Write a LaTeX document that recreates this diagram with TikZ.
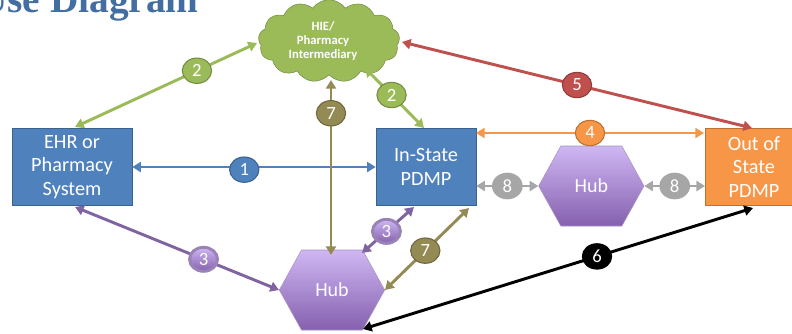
\documentclass[tikz,border=0pt]{standalone}
\usepackage{fontspec}
\setmainfont{Carlito}
\newfontfamily\titlefont{Liberation Serif}
\usepackage{xcolor}
\usetikzlibrary{positioning, arrows.meta, shapes.symbols, shapes.geometric}
\definecolor{sysblue}{HTML}{4F81BD}
\definecolor{sysorange}{HTML}{F79646}
\definecolor{sysgreen}{HTML}{9BBB59}
\definecolor{sysred}{HTML}{C0504D}
\definecolor{syspurple}{HTML}{8064A2}
\definecolor{sysolive}{HTML}{948A54}
\definecolor{sysgray}{HTML}{A6A6A6}
\definecolor{hubtop}{HTML}{CFB7F3}
\definecolor{hubbot}{HTML}{8560AE}
\tikzset{
  sysbox/.style={draw=#1!75!black, fill=#1, text=white, font=\fontsize{15.2}{17.6}\selectfont, align=center, minimum height=58pt, inner sep=0pt},
  hubhex/.style={signal, signal to=east and west, signal pointer angle=122, draw=syspurple!70, top color=hubtop, bottom color=hubbot, text=white, font=\fontsize{15}{18}\selectfont, minimum width=79pt, minimum height=60pt, inner sep=0pt},
  badge/.style={ellipse, draw=#1!75!black, fill=#1, text=white, font=\fontsize{14}{15}\selectfont, minimum width=22pt, minimum height=19pt, inner sep=0pt, thick},
  hubbadge/.style={ellipse, draw=syspurple!80, top color=hubtop, bottom color=hubbot, text=white, font=\fontsize{14}{15}\selectfont, minimum width=21pt, minimum height=18pt, inner sep=0pt},
  greybadge/.style={ellipse, fill=sysgray, text=white, font=\fontsize{14}{15}\selectfont, minimum width=23pt, minimum height=20pt, inner sep=0pt},
  link/.style={<->, draw=#1, line width=2.2pt}
}
\begin{document}
\begin{tikzpicture}[x=0.75pt, y=-0.75pt, >={Stealth[inset=0pt,length=6.5pt,angle'=60]}]
                \useasboundingbox (0,0) rectangle (792,333);
                \clip (0,0) rectangle (792,333);

                \node[anchor=base east, inner sep=0pt, text=sysblue!85!black, font=\titlefont\fontsize{29.5}{30}\selectfont\bfseries] (title) at (199,12) {Use Diagram};

                \node[sysbox=sysblue, minimum width=90pt] (ehr) at (72,167) {EHR or\\Pharmacy\\System};
                \node[sysbox=sysblue, minimum width=75pt] (instate) [right of=ehr, node distance=265.5pt] {In-State\\PDMP};
                \node[hubhex] (hubr) [right of=instate, node distance=124pt, yshift=-14.25pt] {Hub};
                \node[sysbox=sysorange, minimum width=73pt] (outstate) at (754,167) {Out of\\State\\PDMP};
                \node[hubhex] (hubb) at (332,290) {Hub};
                \node[cloud, cloud puffs=13, cloud puff arc=110, aspect=1.8, draw=sysgreen!75!black, fill=sysgreen, minimum width=106pt, minimum height=62pt, inner sep=0pt] (cloud) at (329,41) {};
                \node[text=white, font=\fontsize{9.5}{10.5}\selectfont\bfseries, align=center, inner sep=0pt] (cloudtext) at (323,41) {HIE/\\Pharmacy\\Intermediary};

                \coordinate (ehrtop) at (75,127);
                \coordinate (ehrbot) at (75,207);
                \coordinate (cloudw) at (257,43);
                \coordinate (cloude) at (402,42);
                \coordinate (cloudse) at (365,68);
                \coordinate (cloudbot) at (331,80);
                \coordinate (intop) at (424,128);
                \coordinate (inbot) at (414,207);
                \coordinate (incor) at (469,208);
                \coordinate (hubne) at (362,253);
                \coordinate (hubse) at (363,329);
                \coordinate (hubtop) at (331,255);
                \coordinate (outtop) at (752,128);
                \coordinate (outbot) at (753,208);
                \coordinate (in4) at (476,133);
                \coordinate (out4) at (704,133);

                \path
                (ehr) edge[link=sysblue] node[badge=sysblue, pos=.46, yshift=-2pt] {1} (instate)
                (ehrtop) edge[link=sysgreen] node[badge=sysgreen, pos=.67] {2} (cloudw)
                (cloudse) edge[link=sysgreen] node[badge=sysgreen, pos=.45] {2} (intop)
                (ehrbot) edge[link=syspurple] node[hubbadge, pos=.63] {3} (hubb.west)
                (inbot) edge[link=syspurple] node[hubbadge, pos=.53] {3} (hubne)
                (in4) edge[link=sysorange] node[badge=sysorange] {4} (out4)
                (cloude) edge[link=sysred] node[badge=sysred, pos=.5] {5} (outtop)
                (hubse) edge[link=black] node[badge=black, pos=.6] {6} (outbot)
                (cloudbot) edge[link=sysolive] node[badge=sysolive, pos=.19] {7} (hubtop)
                (hubb.east) edge[link=sysolive] node[badge=sysolive, pos=.48] {7} (incor)
                (instate.east |- hubr) edge[link=sysgray] node[greybadge] {8} (hubr.west)
                (hubr.east) edge[link=sysgray] node[greybadge] {8} (outstate.west |- hubr);
            \end{tikzpicture}
\end{document}
